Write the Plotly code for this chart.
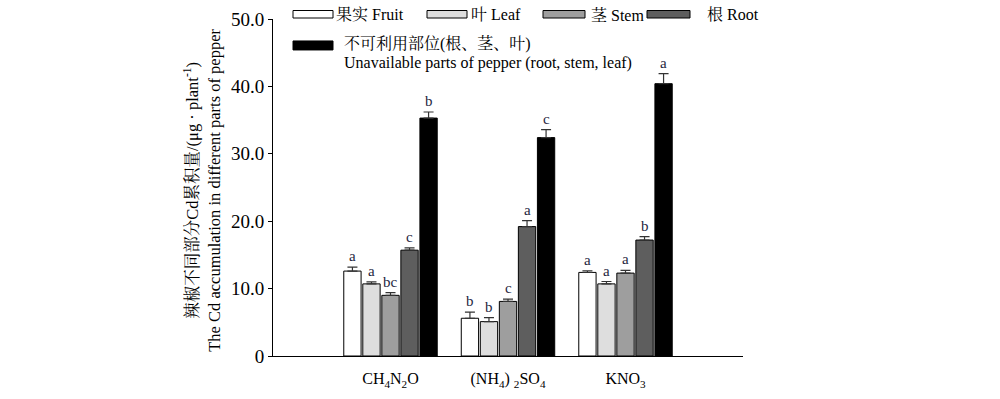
import plotly.graph_objects as go

# ---------------- data ----------------
categories = ["CH<sub>4</sub>N<sub>2</sub>O", "(NH<sub>4</sub>) <sub>2</sub>SO<sub>4</sub>", "KNO<sub>3</sub>"]
series_names = ["果实 Fruit", "叶 Leaf", "茎 Stem", "根 Root",
                "不可利用部位(根、茎、叶)"]
series_sub = ["", "", "", "", "Unavailable parts of pepper (root, stem, leaf)"]

fruit = [12.6, 5.6, 12.4]
leaf = [10.7, 5.1, 10.7]
stem = [9.0, 8.1, 12.3]
root = [15.7, 19.2, 17.2]
unavail = [35.3, 32.4, 40.4]

fruit_err = [0.6, 0.9, 0.25]
leaf_err = [0.3, 0.6, 0.35]
stem_err = [0.4, 0.35, 0.4]
root_err = [0.35, 0.9, 0.5]
unavail_err = [0.9, 1.2, 1.5]

fruit_sig = ["a", "b", "a"]
leaf_sig = ["a", "b", "a"]
stem_sig = ["bc", "c", "a"]
root_sig = ["c", "a", "b"]
unavail_sig = ["b", "c", "a"]

y_tickvals = [0, 10, 20, 30, 40, 50]
y_ticktext = ["0", "10.0", "20.0", "30.0", "40.0", "50.0"]

# ---------------- styles ----------------
colors = ["#ffffff", "#dedede", "#9e9e9e", "#5e5e5e", "#000000"]
values = [fruit, leaf, stem, root, unavail]
errors = [fruit_err, leaf_err, stem_err, root_err, unavail_err]
sigs = [fruit_sig, leaf_sig, stem_sig, root_sig, unavail_sig]

FONT = "Times New Roman, Liberation Serif, Noto Serif CJK SC, Noto Sans CJK SC, serif"
BARGAP = 0.19
xs = list(range(len(categories)))

fig = go.Figure()
for i, (vals, errs, col, name) in enumerate(zip(values, errors, colors, series_names)):
    fig.add_trace(go.Bar(
        x=xs, y=vals, name=name,
        marker=dict(color=col, line=dict(color="#000000", width=1)),
        error_y=dict(type="data", array=errs, arrayminus=[0] * len(errs),
                     symmetric=False, color="#333333", thickness=1.2, width=5),
        showlegend=False,
    ))

# significance letters
n = len(values)
slot = (1 - BARGAP) / n
annotations = []
for i in range(n):
    for j in xs:
        annotations.append(dict(
            x=j - (1 - BARGAP) / 2 + (i + 0.5) * slot, xref="x",
            y=values[i][j] + errors[i][j], yref="y",
            text=sigs[i][j], showarrow=False, yanchor="bottom", yshift=1,
            font=dict(family=FONT, size=15, color="#1f2640"),
        ))

# plot area geometry (pixels) for custom legend placement
W, H = 1000, 399
L, R, T, B = 273, 257, 19, 42.5
pw, ph = W - L - R, H - T - B


def px(xp):
    return (xp - L) / pw


def py(yp):
    return (H - B - yp) / ph


# custom legend (wide swatches like the original)
legend_rects = [(293, 333, 10.5, 18), (427, 467, 10.5, 18), (543, 585, 10.5, 18),
                (647, 690, 10.5, 18), (293, 333, 41, 50)]
legend_text_pos = [(334, 14.5), (469, 14.5), (589, 14.5), (705, 14.5), (342, 44)]
shapes = []
for (x0, x1, y0, y1), col in zip(legend_rects, colors):
    shapes.append(dict(type="rect", xref="paper", yref="paper",
                       x0=px(x0), x1=px(x1), y0=py(y1), y1=py(y0),
                       fillcolor=col, line=dict(color="#000000", width=1)))
for (tx, ty), name, sub in zip(legend_text_pos, series_names, series_sub):
    annotations.append(dict(x=px(tx), y=py(ty), xref="paper", yref="paper",
                            text=name, showarrow=False, xanchor="left", yanchor="middle",
                            font=dict(family=FONT, size=16, color="#000000")))
    if sub:
        annotations.append(dict(x=px(tx), y=py(ty + 19), xref="paper", yref="paper",
                                text=sub, showarrow=False, xanchor="left", yanchor="middle",
                                font=dict(family=FONT, size=16, color="#000000")))

# y-axis title (two lines)
annotations.append(dict(
    x=px(202), y=py(191), xref="paper", yref="paper",
    text="辣椒不同部分Cd累积量/(μg · plant<sup>-1</sup>)<br>The Cd accumulation in different parts of pepper",
    textangle=-90, showarrow=False, xanchor="center", yanchor="middle",
    font=dict(family=FONT, size=16.5, color="#000000"),
))

fig.update_layout(
    width=W, height=H, autosize=False,
    margin=dict(l=L, r=R, t=T, b=B, pad=0),
    paper_bgcolor="white", plot_bgcolor="white",
    barmode="group", bargap=BARGAP, bargroupgap=0.09,
    font=dict(family=FONT, color="#000000"),
    shapes=shapes, annotations=annotations,
    xaxis=dict(range=[-1, 3], tickvals=xs, ticktext=categories,
               showline=True, linecolor="#000000", linewidth=1,
               showgrid=False, zeroline=False, ticks="", automargin=False,
               tickfont=dict(family=FONT, size=16), ticklabelstandoff=8),
    yaxis=dict(range=[0, 50], tickvals=y_tickvals, ticktext=y_ticktext,
               showline=True, linecolor="#000000", linewidth=1,
               showgrid=False, zeroline=False, ticks="outside", ticklen=4,
               automargin=False,
               tickcolor="#000000", tickfont=dict(family=FONT, size=19)),
)

fig.write_html("out.html", config={"displayModeBar": False},
               post_script="document.body.style.margin='0';document.body.style.overflow='hidden';")
